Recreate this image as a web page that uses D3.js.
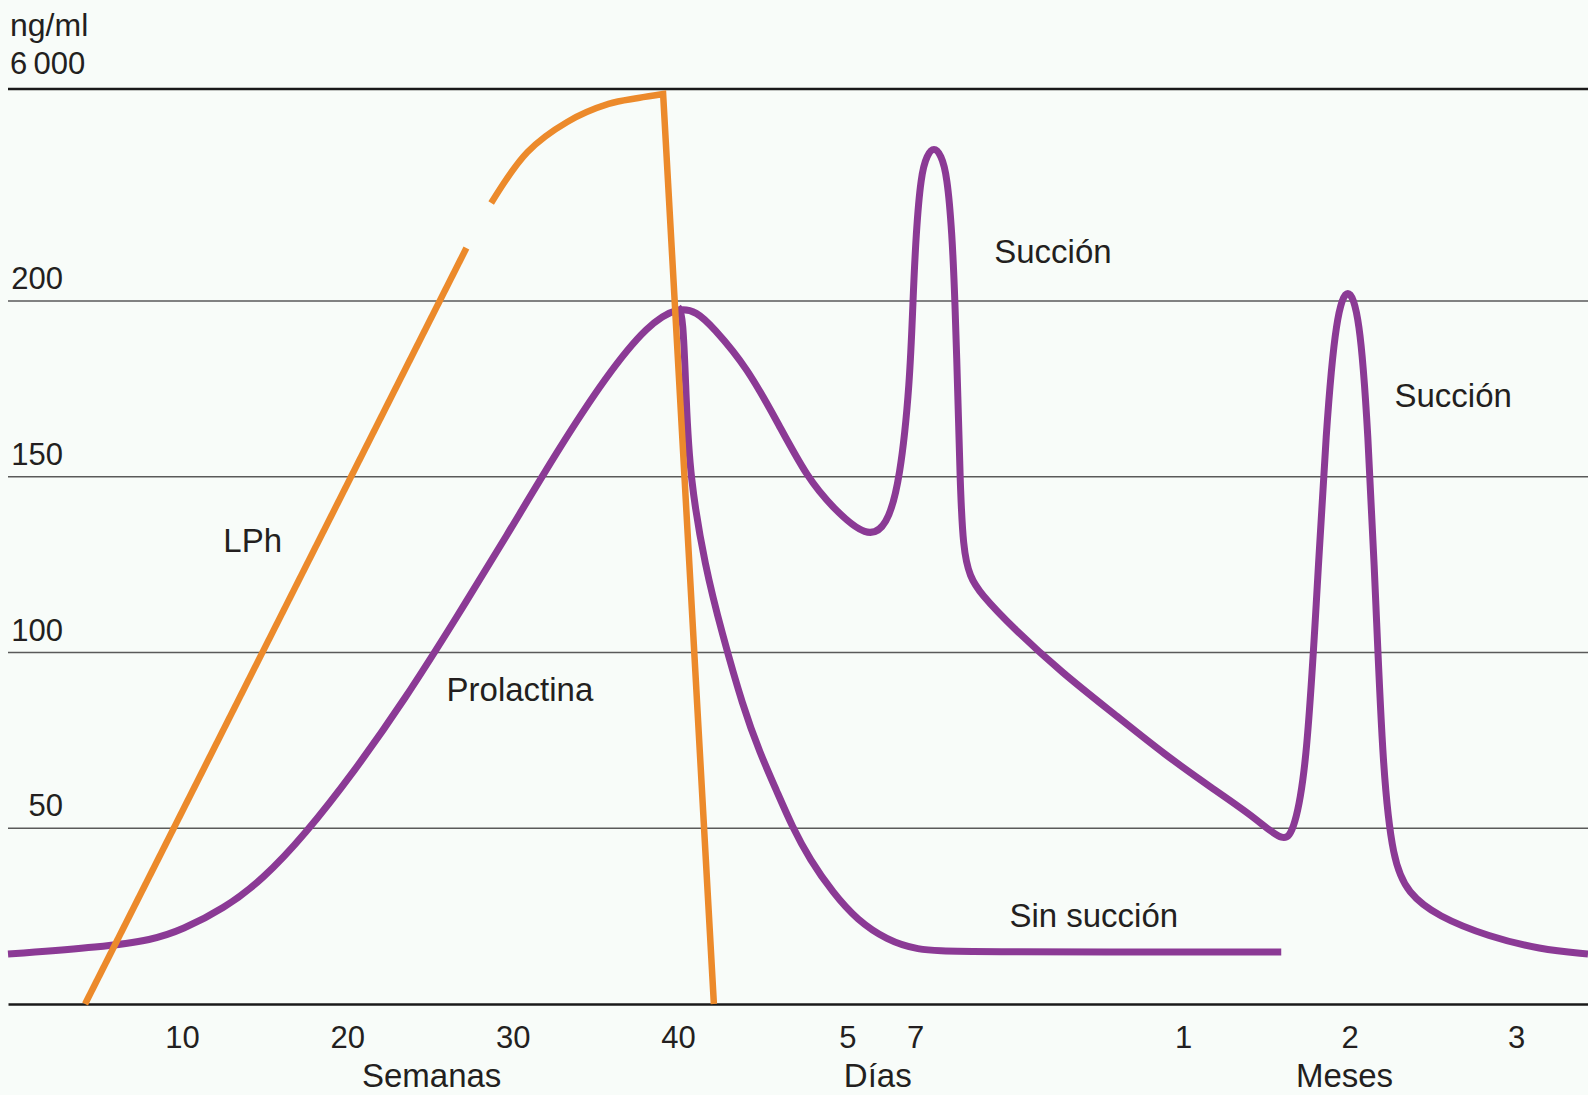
<!DOCTYPE html>
<html><head><meta charset="utf-8">
<script src="https://cdn.jsdelivr.net/npm/d3@7"></script>
<style>
html,body{margin:0;padding:0;background:#f8fcf9;}
svg{display:block;font-family:"Liberation Sans",Arial,Helvetica,sans-serif;}
</style></head><body>
<svg id="chart" width="1588" height="1095"></svg>
<script>
// ---------- data ----------
const yUnitLabel = "ng/ml";
const prlTicks = [50, 100, 150, 200];          // prolactin gridlines (ng/ml)
const lphTop = 6000;                            // LPh top gridline (ng/ml)
const lphTopLabel = "6\u2009000";

const xTickUnits  = ["w","w","w","w","d","d","m","m","m"];
const xTickValues = [10, 20, 30, 40, 5, 7, 1, 2, 3];
const xTickLabels = ["10","20","30","40","5","7","1","2","3"];
const xUnitNames  = ["Semanas", "Días", "Meses"];

// Prolactin during pregnancy: [week, ng/ml]
const prlPregnancy = [[0,14.2],[5.4,16.2],[8.3,18.2],[10,21.1],[12.5,27.0],[14.9,35.5],[17.4,48.0],
  [20.4,66.0],[23.5,86.8],[26.6,109.9],[29.6,132.9],[32.7,157.4],[35.7,179.0],[38.2,193.4],[40,198.3]];
// Prolactin with suckling, post-partum days: [day, ng/ml]
const prlSuckDays = [[0.55,197.0],[1.03,192.6],[2.04,181.2],[3.01,164.2],[3.81,149.9],[4.58,141.0],
  [5.58,132.5],[6.17,135.7],[6.56,149.1],[6.85,176.7],[6.94,200.3],[7.09,219.4],[7.51,235.9],
  [8.03,241.6],[8.63,243.8],[9.23,241.6],[9.75,235.9],[10.18,219.4],[10.43,200.3],[10.69,171.8],
  [10.86,149.9],[11.12,129.2],[11.72,121.5],[12.58,116.9],[15.4,107.0],[19.7,94.0],
  [24.1,82.5],[28.4,71.0]];
// Prolactin with suckling, post-partum months: [month, ng/ml]
const prlSuckMonths = [[1.19,60.9],[1.44,52.8],[1.61,45.5],[1.67,49.9],[1.74,66.7],[1.8,112.7],
  [1.86,164.6],[1.92,196.3],[1.99,205.0],[2.06,196.3],[2.11,164.6],[2.16,112.7],[2.2,66.7],
  [2.26,40.7],[2.35,31.5],[2.53,24.9],[2.84,19.1],[3.14,15.6],[3.43,14.2]];
// Prolactin without suckling: post-partum days, then months
const prlNoSuckDays = [[0.15,196.5],[0.24,171.8],[0.35,149.9],[0.8,124.3],[1.3,105.5],[1.92,84.5],
  [2.42,71.4],[2.92,60.5],[3.37,50.5],[3.9,41.0],[4.58,31.6],[5.29,23.9],[6.17,18.2],[7.17,15.4],
  [10.26,14.8]];
const prlNoSuckMonths = [[1.59,14.8]];

// LPh (placental lactogen), ng/ml on the 0–6000 scale
const lphRise = [[4.43,0],[27.2,4957]];                       // weeks
const lphPlateau = [[28.7,5252],[30.9,5587],[33.3,5784],[35.8,5902],[37.6,5941],[39.1,5967]]; // weeks
const lphDrop = [[1.06,0]];                                   // post-partum days

const seriesLabels = {lph:"LPh", prl:"Prolactina", suck:"Succión", nosuck:"Sin succión"};

// ---------- helpers ----------
function toT(unit, v){ // days since conception
  if (unit === "w") return v * 7;
  if (unit === "d") return 280 + v;
  return 280 + 30 * v;
}
const W = 1588, H = 1095;
const x = d3.scaleLinear()
  .domain([0, 70, 280, 287, 310, 370, toT("m", 3.43)])
  .range([8, 182, 678, 915, 1183, 1516, 1588]);
const yPrl = d3.scaleLinear().domain([0, 200]).range([1004, 301]);
const yLph = d3.scaleLinear().domain([0, lphTop]).range([1004, 89]);

const svg = d3.select("#chart");
svg.append("rect").attr("width", W).attr("height", H).attr("fill", "#f8fcf9");

const textColor = "#231f20";
const fsTick = 31, fsLabel = 33;

// gridlines
svg.append("g").selectAll("line").data(prlTicks).join("line")
  .attr("x1", 8).attr("x2", W).attr("y1", d => yPrl(d)).attr("y2", d => yPrl(d))
  .attr("stroke", "#5a5a5a").attr("stroke-width", 1.6);
svg.append("g").selectAll("text").data(prlTicks).join("text")
  .attr("x", 63).attr("y", d => yPrl(d) - 12).attr("text-anchor", "end")
  .attr("font-size", fsTick).attr("fill", textColor).text(d => d);

svg.append("line").attr("x1", 8).attr("x2", W).attr("y1", yLph(lphTop)).attr("y2", yLph(lphTop))
  .attr("stroke", "#1a1a1a").attr("stroke-width", 2.6);
svg.append("text").attr("x", 10).attr("y", yLph(lphTop) - 15)
  .attr("font-size", fsTick).attr("fill", textColor).text(lphTopLabel);
svg.append("text").attr("x", 10).attr("y", 36)
  .attr("font-size", 32).attr("fill", textColor).text(yUnitLabel);

// x axis
const tickT = xTickValues.map((v, i) => toT(xTickUnits[i], v));
const xAxis = d3.axisBottom(x).tickValues(tickT).tickFormat((d, i) => xTickLabels[i])
  .tickSize(0).tickSizeOuter(0);
const gx = svg.append("g").attr("transform", `translate(0,${yPrl(0)})`).call(xAxis);
gx.attr("font-family", null);
gx.select(".domain").attr("stroke", "#1a1a1a").attr("stroke-width", 2.6);
gx.selectAll("text").attr("y", 44).attr("dy", 0).attr("font-size", fsTick)
  .attr("fill", textColor);

const unitPos = [toT("w", 25.1), toT("d", 5.9), toT("m", 1.97)];
svg.append("g").selectAll("text").data(xUnitNames).join("text")
  .attr("x", (d, i) => x(unitPos[i])).attr("y", 1087).attr("text-anchor", "middle")
  .attr("font-size", fsLabel).attr("fill", textColor).text(d => d);

// ---------- lines ----------
const purple = "#8b3a95", orange = "#ec8a2b";
const smooth = d3.curveCatmullRom.alpha(0.5);
const linePrl = d3.line().x(d => x(d[0])).y(d => yPrl(d[1])).curve(d3.curveBasis);
const lineLph = d3.line().x(d => x(d[0])).y(d => yLph(d[1]));

const suckPts = [
  ...prlPregnancy.map(d => [toT("w", d[0]), d[1]]),
  ...prlSuckDays.map(d => [toT("d", d[0]), d[1]]),
  ...prlSuckMonths.map(d => [toT("m", d[0]), d[1]])
];
const peak = prlPregnancy[prlPregnancy.length - 1];
const noSuckPts = [
  [toT("w", peak[0]), peak[1]],
  ...prlNoSuckDays.map(d => [toT("d", d[0]), d[1]]),
  ...prlNoSuckMonths.map(d => [toT("m", d[0]), d[1]])
];

svg.append("path").attr("d", linePrl(noSuckPts)).attr("fill", "none")
  .attr("stroke", purple).attr("stroke-width", 7).attr("stroke-linecap", "butt");
svg.append("path").attr("d", linePrl(suckPts)).attr("fill", "none")
  .attr("stroke", purple).attr("stroke-width", 7).attr("stroke-linecap", "butt");

const risePts = lphRise.map(d => [toT("w", d[0]), d[1]]);
const platPts = lphPlateau.map(d => [toT("w", d[0]), d[1]]);
const dropPts = lphDrop.map(d => [toT("d", d[0]), d[1]]);
svg.append("path").attr("d", lineLph(risePts)).attr("fill", "none")
  .attr("stroke", orange).attr("stroke-width", 6.5).attr("stroke-linecap", "butt");
const platPath = d3.line().x(d => x(d[0])).y(d => yLph(d[1])).curve(smooth)(platPts);
const dropSeg = dropPts.map(d => `L${x(d[0])},${yLph(d[1])}`).join("");
svg.append("path").attr("d", platPath + dropSeg).attr("fill", "none")
  .attr("stroke", orange).attr("stroke-width", 6.5).attr("stroke-linecap", "butt")
  .attr("stroke-linejoin", "miter").attr("stroke-miterlimit", 20);

// ---------- labels ----------
const ann = [
  {t: toT("w", 12.5), v: 128.6, s: seriesLabels.lph},
  {t: toT("w", 26.0), v: 86.2, s: seriesLabels.prl},
  {t: toT("d", 13.8), v: 210.8, s: seriesLabels.suck},
  {t: toT("m", 2.27), v: 169.8, s: seriesLabels.suck},
  {t: toT("d", 15.1), v: 21.9, s: seriesLabels.nosuck}
];
svg.append("g").selectAll("text").data(ann).join("text")
  .attr("x", d => x(d.t)).attr("y", d => yPrl(d.v))
  .attr("font-size", fsLabel).attr("fill", textColor).text(d => d.s);
</script>
</body></html>
